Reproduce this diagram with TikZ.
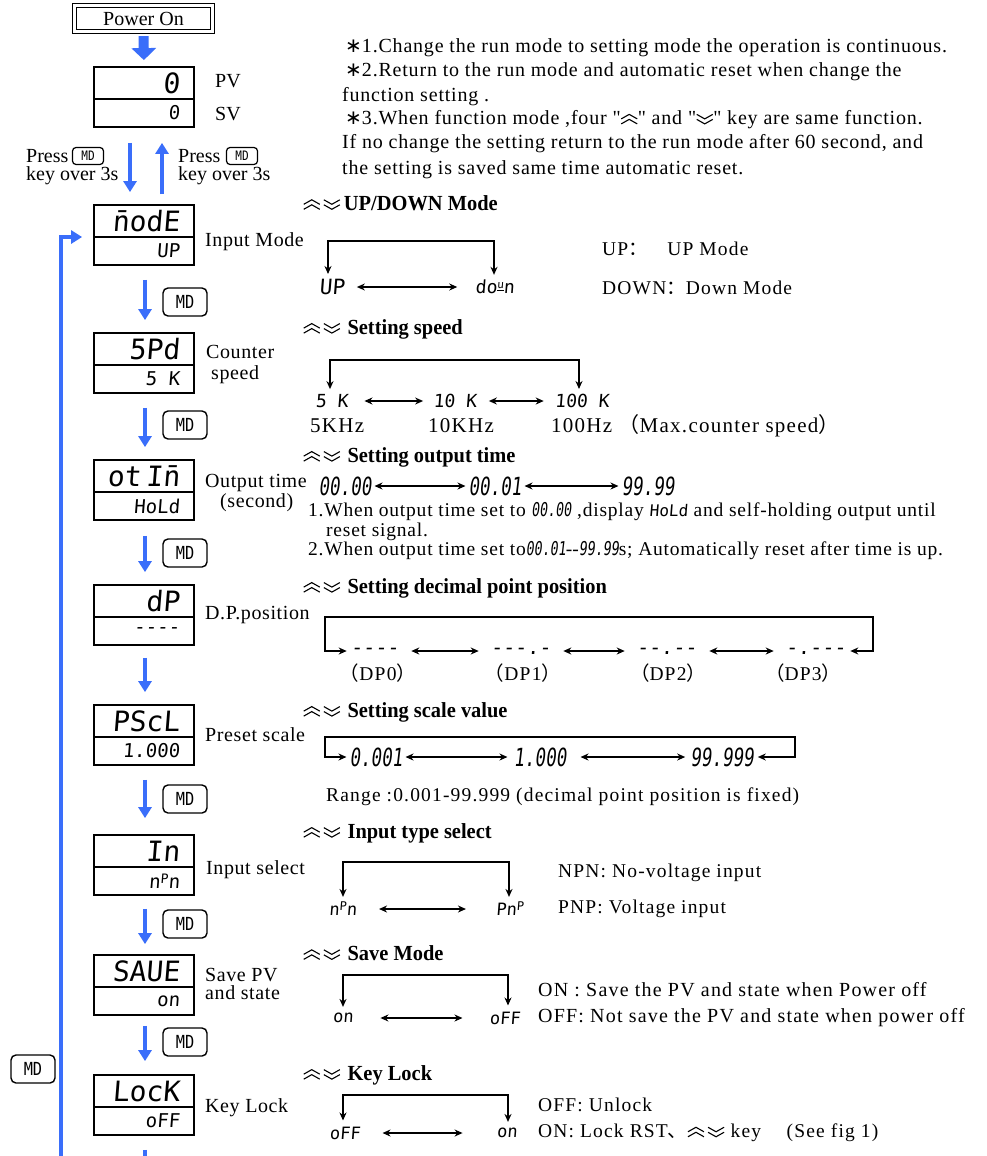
\documentclass[tikz,border=0pt]{standalone}
\usepackage{fontspec}
\setmainfont{Liberation Serif}
\newfontfamily\cjk{Noto Sans CJK SC}
\newfontfamily\djv{DejaVu Sans}
\newfontfamily\segA{DejaVu Sans Mono}[FakeSlant=0.08]
\newfontfamily\segB{DejaVu Sans Mono}[FakeStretch=0.7,FakeSlant=0.12]
\newfontfamily\hdf{Liberation Serif}[FakeStretch=0.95]
\newfontfamily\keyfont{DejaVu Sans Mono}[FakeStretch=0.85]
\newfontfamily\notef{Liberation Serif}[LetterSpace=4]
\newfontfamily\txtf{Liberation Serif}[LetterSpace=6]
\newfontfamily\txtg{Liberation Serif}[LetterSpace=4]
\newfontfamily\lblf{Liberation Serif}[LetterSpace=3]
\usetikzlibrary{arrows.meta,calc}
\definecolor{segblue}{RGB}{58,110,250}
\newcommand\chevup{\tikz[baseline=0pt,x=1pt,y=1pt,line width=1.1pt]{\draw (0,1)--(8,5.5)--(16,1) (0,6)--(8,10.5)--(16,6);}}
\newcommand\chevdn{\tikz[baseline=0pt,x=1pt,y=1pt,line width=1.1pt]{\draw (0,10.5)--(8,6)--(16,10.5) (0,5.5)--(8,1)--(16,5.5);}}
\newcommand\updn{\chevup\hspace{3pt}\chevdn}
\newcommand\nstar{{\djv ∗}}
\newcommand\segdisp[4]{%
  \node[disp] (#1) at (144,{#2+30}) {};
  \draw[divl] ([yshift=-2pt]#1.west) -- ([yshift=-2pt]#1.east);
  \node[segtop] (#1t) at ([xshift=-15pt,yshift=14pt]#1.east) {#3};
  \node[segbot] (#1b) at ([xshift=-15pt,yshift=-16pt]#1.east) {#4};
}
\tikzset{
  disp/.style={draw, line width=1.8pt, minimum width=100pt, minimum height=60pt, inner sep=0pt},
  divl/.style={line width=1.8pt},
  segtop/.style={inner sep=0pt, anchor=east, font=\segA\fontsize{28}{28}\selectfont},
  segbot/.style={inner sep=0pt, anchor=east, font=\segA\fontsize{19}{19}\selectfont},
  lbl/.style={inner sep=0pt, anchor=west, font=\lblf\fontsize{20}{20}\selectfont},
  plbl/.style={inner sep=0pt, anchor=west, font=\fontsize{20}{20}\selectfont},
  txt/.style={inner sep=0pt, anchor=west, font=\txtf\fontsize{19.5}{19.5}\selectfont},
  txtb/.style={inner sep=0pt, anchor=west, font=\txtg\fontsize{19.5}{19.5}\selectfont},
  note/.style={inner sep=0pt, anchor=west, font=\notef\fontsize{20}{20}\selectfont},
  hd/.style={inner sep=0pt, anchor=west, font=\hdf\bfseries\fontsize{21.5}{21.5}\selectfont},
  mdkey/.style={draw, rounded corners=5pt, line width=1.4pt, minimum width=44pt, minimum height=28pt, inner sep=0pt, font=\keyfont\fontsize{18}{18}\selectfont},
  mdsmall/.style={draw, rounded corners=3.5pt, line width=1.2pt, minimum width=31pt, minimum height=17pt, inner sep=0pt, font=\keyfont\fontsize{13}{13}\selectfont},
  bluearr/.style={draw=segblue, line width=4.5pt, -{Triangle[width=13pt,length=11pt]}},
  bigarr/.style={draw=segblue, line width=10pt, -{Triangle[width=24pt,length=12pt]}},
  blk/.style={line width=1.6pt, {Stealth[length=8pt,width=7pt]}-{Stealth[length=8pt,width=7pt]}},
  seg/.style={inner sep=0pt, font=\segA\fontsize{18}{18}\selectfont},
  segnum/.style={inner sep=0pt, font=\segB\fontsize{25}{25}\selectfont},
}
\begin{document}
\begin{tikzpicture}[x=1pt,y=-1pt]
\useasboundingbox (0,0) rectangle (987,1156);
\fill[white] (0,0) rectangle (987,1156);

% ---------------- left column ----------------
\node[draw, line width=1.2pt, minimum width=134pt, minimum height=22pt, inner sep=0pt, font=\fontsize{20}{20}\selectfont] (pon) at (143.5,18.5) {Power On};
\draw[line width=1.2pt] ([shift={(-3.5,3.5)}]pon.south west) rectangle ([shift={(3.5,-3.5)}]pon.north east);

\segdisp{pv}{67}{0}{0}
\node[plbl] (pvl) at (215,81) {PV};
\node[plbl] (svl) at (215,114) {SV};
\draw[bigarr, shorten <=6pt, shorten >=6pt] (pon.south) -- (pv.north);

\segdisp{d1}{205}{\={n}odE}{UP}
\segdisp{d2}{333}{5Pd}{5 K}
\segdisp{d3}{460}{ot\hspace{5pt}I\={n}}{HoLd}
\segdisp{d4}{585}{dP}{-\kern0pt-\kern0pt-\kern0pt-}
\segdisp{d5}{705}{PScL}{1.000}
\segdisp{d6}{835}{In}{n{\fontsize{13}{13}\selectfont\raisebox{5pt}{P}}n}
\segdisp{d7}{955}{SAUE}{on}
\segdisp{d8}{1075}{LocK}{oFF}

\node[lbl] (l1) at (205,242) {Input Mode};
\node[lbl] (l2a) at (206,352) {Counter};
\node[lbl] (l2b) at (211,375) {speed};
\node[lbl] (l3a) at (205,483) {Output time};
\node[lbl] (l3b) at (220,503) {(second)};
\node[lbl] (l4) at (205,615) {D.P.position};
\node[lbl] (l5) at (205,735) {Preset scale};
\node[lbl] (l6) at (206,870) {Input select};
\node[lbl] (l7a) at (205,975) {Save PV};
\node[lbl] (l7b) at (205,993) {and state};
\node[lbl] (l8) at (205,1108) {Key Lock};

% press labels
\node[plbl] (prL1) at (26,156) {Press};
\node[mdsmall] (mdpL) at (88,156) {MD};
\node[plbl] (prL2) at (26,176) {key over 3s};
\node[plbl] (prR1) at (178,156) {Press};
\node[mdsmall] (mdpR) at (242,156) {MD};
\node[plbl] (prR2) at (178,176) {key over 3s};

\draw[bluearr, shorten <=15pt, shorten >=12pt] ([xshift=-14pt]pv.south) -- ([xshift=-14pt]d1.north);
\draw[bluearr, shorten <=10pt, shorten >=15pt] ([xshift=18pt]d1.north) -- ([xshift=18pt]pv.south);

% step arrows
\draw[bluearr, shorten <=14pt, shorten >=12pt] ([xshift=1pt]d1.south) -- ([xshift=1pt]d2.north);
\draw[bluearr, shorten <=14pt, shorten >=12pt] ([xshift=1pt]d2.south) -- ([xshift=1pt]d3.north);
\draw[bluearr, shorten <=15pt, shorten >=12pt] ([xshift=1pt]d3.south) -- ([xshift=1pt]d4.north);
\draw[bluearr, shorten <=12pt, shorten >=12pt] ([xshift=1pt]d4.south) -- ([xshift=1pt]d5.north);
\draw[bluearr, shorten <=14pt, shorten >=16pt] ([xshift=1pt]d5.south) -- ([xshift=1pt]d6.north);
\draw[bluearr, shorten <=13pt, shorten >=10pt] ([xshift=1pt]d6.south) -- ([xshift=1pt]d7.north);
\draw[bluearr, shorten <=10pt, shorten >=13pt] ([xshift=1pt]d7.south) -- ([xshift=1pt]d8.north);
\coordinate (stubE) at (145,1170);
\draw[draw=segblue, line width=4.5pt] ([xshift=1pt,yshift=-14pt]d8.south) -- (stubE);

\node[mdkey] (md1) at (185,302) {MD};
\node[mdkey] (md2) at (185,425) {MD};
\node[mdkey] (md3) at (185,553) {MD};
\node[mdkey] (md5) at (185,799) {MD};
\node[mdkey] (md6) at (185,924) {MD};
\node[mdkey] (md7) at (185,1042) {MD};
\node[mdkey] (mdL) at (33,1069) {MD};

\coordinate (loopS) at (61,1170);
\draw[bluearr, shorten >=11pt] (loopS) |- ([yshift=-2pt]d1.west);

% ---------------- notes ----------------
\node[note] (n1) at (345,48) {\nstar1.Change the run mode to setting mode the operation is continuous.};
\node[note] (n2) at (345,72) {\nstar2.Return to the run mode and automatic reset when change the};
\node[note] (n3) at (342,97) {function setting .};
\node[note] (n4) at (345,120) {\nstar3.When function mode ,four \textquotedbl\chevup\textquotedbl{} and \textquotedbl\chevdn\textquotedbl{} key are same function.};
\node[note] (n5) at (342,144) {If no change the setting return to the run mode after 60 second, and};
\node[note] (n6) at (342,170) {the setting is saved same time automatic reset.};

% ---------------- UP/DOWN ----------------
\node[hd] (h1) at (303,203) {\updn\,UP/DOWN Mode};
\node[seg, font=\segA\fontsize{21}{21}\selectfont] (udUP) at (332,287) {UP};
\node[seg] (uddn) at (495,287) {do{\fontsize{11}{11}\selectfont\raisebox{5pt}{\underline{u}}}n};
\coordinate (udTL) at (328,241);
\coordinate (udTR) at (494,241);
\draw[blk, shorten <=5pt, shorten >=5pt] (udTL |- udUP.north) -- (udTL) -- (udTR) -- (udTR |- uddn.north);
\draw[blk, shorten <=12pt, shorten >=18pt] (udUP.east) -- (uddn.west);
\node[txt] (udt1) at (602,249) {UP{\cjk ：}\quad UP Mode};
\node[txt] (udt2) at (602,288) {DOWN{\cjk ：}Down Mode};

% ---------------- speed ----------------
\node[hd] (h2) at (303,329) {\updn\,\,Setting speed};
\node[seg] (sp5) at (332,401) {5 K};
\node[seg] (sp10) at (455,401) {10 K};
\node[seg] (sp100) at (582,401) {100 K};
\coordinate (spTL) at (330,360);
\coordinate (spTR) at (579,360);
\draw[blk, shorten <=5pt, shorten >=5pt] (spTL |- sp5.north) -- (spTL) -- (spTR) -- (spTR |- sp100.north);
\draw[blk, shorten <=16pt, shorten >=10pt] (sp5.east) -- (sp10.west);
\draw[blk, shorten <=12pt, shorten >=11pt] (sp10.east) -- (sp100.west);
\node[txt, font=\txtf\fontsize{21}{21}\selectfont] (spl1) at (310,426) {5KHz};
\node[txt, font=\txtf\fontsize{21}{21}\selectfont] (spl2) at (428,426) {10KHz};
\node[txt, font=\txtf\fontsize{21}{21}\selectfont] (spl3) at (551,426) {100Hz {\cjk （}Max.counter speed{\cjk ）}};

% ---------------- output time ----------------
\node[hd] (h3) at (303,457) {\updn\,\,Setting output time};
\node[segnum] (ot1) at (345,486) {00.00};
\node[segnum] (ot2) at (495,486) {00.01};
\node[segnum] (ot3) at (648,486) {99.99};
\draw[blk, shorten <=3pt, shorten >=3pt] (ot1.east) -- (ot2.west);
\draw[blk, shorten <=3pt, shorten >=3pt] (ot2.east) -- (ot3.west);
\node[txtb] (otl1) at (308,512) {1.When output time set to {\segB\fontsize{19}{19}\selectfont 00.00} ,display {\segA\fontsize{16}{16}\selectfont HoLd} and self-holding output until};
\node[txtb] (otl2) at (326,532) {reset signal.};
\node[txtb] (otl3) at (308,551) {2.When output time set to{\segB\fontsize{19}{19}\selectfont 00.01}-\kern0pt-{\segB\fontsize{19}{19}\selectfont 99.99}s; Automatically reset after time is up.};

% ---------------- decimal point ----------------
\node[hd] (h4) at (303,588) {\updn\,\,Setting decimal point position};
\node[seg, font=\segA\fontsize{20}{20}\selectfont] (dp0) at (375,651) {-\kern0pt-\kern0pt-\kern0pt-};
\node[seg, font=\segA\fontsize{20}{20}\selectfont] (dp1) at (521,651) {-\kern0pt-\kern0pt-\kern0pt.\kern0pt-};
\node[seg, font=\segA\fontsize{20}{20}\selectfont] (dp2) at (667,651) {-\kern0pt-\kern0pt.\kern0pt-\kern0pt-};
\node[seg, font=\segA\fontsize{20}{20}\selectfont] (dp3) at (816,651) {-\kern0pt.\kern0pt-\kern0pt-\kern0pt-};
\coordinate (dpTL) at (325,617);
\coordinate (dpTR) at (873,617);
\draw[blk, shorten <=4pt, shorten >=4pt] (dp3.east) -| (dpTR) -- (dpTL) |- (dp0.west);
\draw[blk, shorten <=12pt, shorten >=12pt] (dp0.east) -- (dp1.west);
\draw[blk, shorten <=12pt, shorten >=12pt] (dp1.east) -- (dp2.west);
\draw[blk, shorten <=12pt, shorten >=12pt] (dp2.east) -- (dp3.west);
\node[txt, anchor=center] (dpl0) at (378,673) {{\cjk （}DP0{\cjk ）}};
\node[txt, anchor=center] (dpl1) at (523,673) {{\cjk （}DP1{\cjk ）}};
\node[txt, anchor=center] (dpl2) at (668,673) {{\cjk （}DP2{\cjk ）}};
\node[txt, anchor=center] (dpl3) at (803,673) {{\cjk （}DP3{\cjk ）}};

% ---------------- scale ----------------
\node[hd] (h5) at (303,712) {\updn\,\,Setting scale value};
\node[segnum] (sc1) at (376,757) {0.001};
\node[segnum] (sc2) at (540,757) {1.000};
\node[segnum] (sc3) at (722,757) {99.999};
\coordinate (scTL) at (325,737);
\coordinate (scTR) at (795,737);
\draw[blk, shorten <=4pt, shorten >=3pt] (sc3.east) -| (scTR) -- (scTL) |- (sc1.west);
\draw[blk, shorten <=3pt, shorten >=6pt] (sc1.east) -- (sc2.west);
\draw[blk, shorten <=14pt, shorten >=5pt] (sc2.east) -- (sc3.west);
\node[txt] (scr) at (326,797) {Range :0.001-99.999 (decimal point position is fixed)};

% ---------------- input type ----------------
\node[hd] (h6) at (303,833) {\updn\,\,Input type select};
\node[seg, font=\segA\fontsize{17}{17}\selectfont] (in1) at (343,909) {n{\fontsize{12}{12}\selectfont\raisebox{5pt}{P}}n};
\node[seg, font=\segA\fontsize{17}{17}\selectfont] (in2) at (510,909) {Pn{\fontsize{12}{12}\selectfont\raisebox{5pt}{P}}};
\coordinate (inTL) at (343,862);
\coordinate (inTR) at (509,862);
\draw[blk, shorten <=5pt, shorten >=5pt] (inTL |- in1.north) -- (inTL) -- (inTR) -- (inTR |- in2.north);
\draw[blk, shorten <=22pt, shorten >=30pt] (in1.east) -- (in2.west);
\node[txt] (int1) at (558,873) {NPN: No-voltage input};
\node[txt] (int2) at (558,909) {PNP: Voltage input};

% ---------------- save mode ----------------
\node[hd] (h7) at (303,953) {\updn\,\,Save Mode};
\node[seg, font=\segA\fontsize{17}{17}\selectfont] (sv1) at (343,1018) {on};
\node[seg, font=\segA\fontsize{17}{17}\selectfont] (sv2) at (505,1018) {oFF};
\coordinate (svTL) at (343,975);
\coordinate (svTR) at (508,975);
\draw[blk, shorten <=6pt, shorten >=6pt] (svTL |- sv1.north) -- (svTL) -- (svTR) -- (svTR |- sv2.north);
\draw[blk, shorten <=27pt, shorten >=27pt] (sv1.east) -- (sv2.west);
\node[txt, font=\txtf\fontsize{20}{20}\selectfont] (svt1) at (538,990) {ON : Save the PV and state when Power off};
\node[txt, font=\txtf\fontsize{20}{20}\selectfont] (svt2) at (538,1018) {OFF: Not save the PV and state when power off};

% ---------------- key lock ----------------
\node[hd] (h8) at (303,1075) {\updn\,\,Key Lock};
\node[seg, font=\segA\fontsize{17}{17}\selectfont] (kl1) at (345,1133) {oFF};
\node[seg, font=\segA\fontsize{17}{17}\selectfont] (kl2) at (507,1133) {on};
\coordinate (klTL) at (343,1095);
\coordinate (klTR) at (508,1095);
\draw[blk, shorten <=6pt, shorten >=6pt] (klTL |- kl1.north) -- (klTL) -- (klTR) -- (klTR |- kl2.north);
\draw[blk, shorten <=22pt, shorten >=34pt] (kl1.east) -- (kl2.west);
\node[txt] (klt1) at (538,1105) {OFF: Unlock};
\node[txt] (klt2) at (538,1133) {ON: Lock RST{\cjk 、}\updn\ key\quad\ (See fig 1)};
\end{tikzpicture}
\end{document}
